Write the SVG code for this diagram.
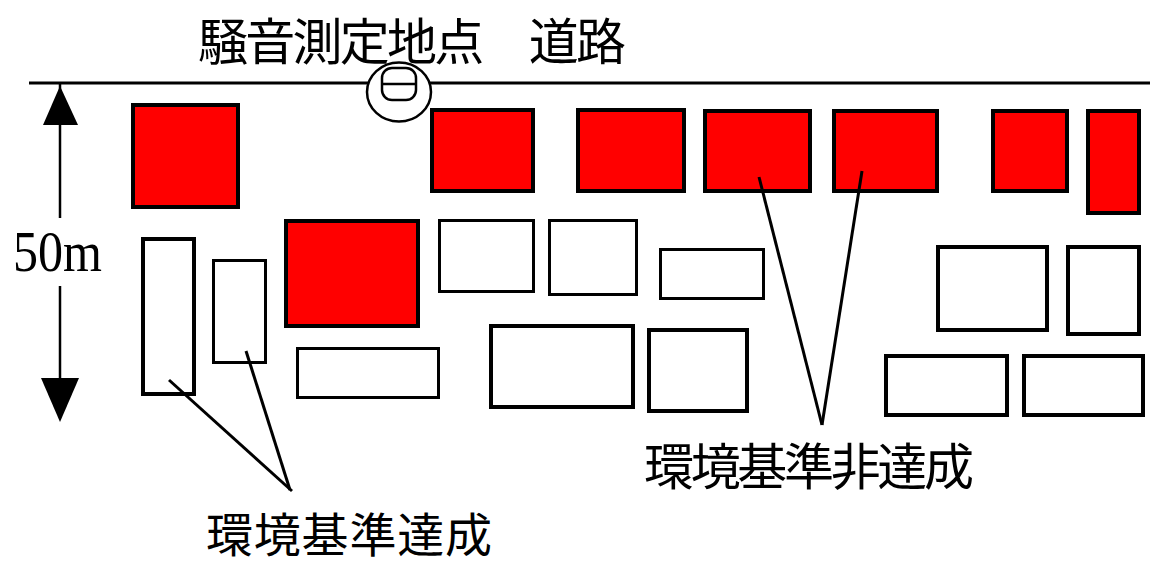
<svg xmlns="http://www.w3.org/2000/svg" width="1150" height="567" viewBox="0 0 1150 567">
<style>
.red{fill:#ff0000;stroke:#000;stroke-width:4}
.wh{fill:#fff;stroke:#000;stroke-width:4}
.th{stroke-width:3}
.lbl{font-family:"Noto Sans CJK JP","Noto Sans CJK SC",sans-serif;font-size:50px;fill:#000}
.ln{stroke:#000;stroke-width:3;fill:none}
</style>
<rect width="1150" height="567" fill="#fff"/>
<g id="road">
<line x1="29" y1="83" x2="1150" y2="83" stroke="#000" stroke-width="3"/>
</g>
<text class="lbl" x="198" y="60" textLength="428" lengthAdjust="spacing">騒音測定地点　道路</text>
<g id="measure-point">
<ellipse cx="399" cy="92" rx="32" ry="29.5" fill="#fff" stroke="#000" stroke-width="2.5"/>
<rect x="382" y="68" width="34" height="32" rx="10" fill="none" stroke="#000" stroke-width="2.5"/>
<line x1="382" y1="84" x2="416" y2="84" stroke="#000" stroke-width="2.5"/>
</g>
<g id="dimension">
<line x1="60" y1="83" x2="60" y2="218" stroke="#000" stroke-width="2.5"/>
<line x1="60" y1="286" x2="60" y2="380" stroke="#000" stroke-width="2.5"/>
<polygon points="60,86 43,125 78,125" fill="#000"/>
<polygon points="41,378 79,378 60,422" fill="#000"/>
<text x="13" y="271" font-family="Liberation Serif,serif" font-size="56" textLength="89" lengthAdjust="spacingAndGlyphs">50m</text>
</g>
<g id="red1"><rect class="red" x="133" y="105" width="105" height="102"/></g>
<g id="red2"><rect class="red" x="432" y="110" width="101" height="81"/></g>
<g id="red3"><rect class="red" x="578" y="110" width="106" height="81"/></g>
<g id="red4"><rect class="red" x="705" y="111" width="105" height="80"/></g>
<g id="red5"><rect class="red" x="834" y="111" width="103" height="80"/></g>
<g id="red6"><rect class="red" x="993" y="111" width="74" height="80"/></g>
<g id="red7"><rect class="red" x="1088" y="111" width="51" height="102"/></g>
<g id="red8"><rect class="red" x="286" y="221" width="132" height="105"/></g>
<g id="wa"><rect class="wh" x="143" y="239" width="51" height="155"/></g>
<g id="wb"><rect class="wh th" x="213.5" y="260.5" width="52" height="102"/></g>
<g id="wc"><rect class="wh th" x="439.5" y="220.5" width="94" height="71"/></g>
<g id="wd"><rect class="wh th" x="549.5" y="220.5" width="87" height="74"/></g>
<g id="we"><rect class="wh th" x="297.5" y="348.5" width="141" height="49"/></g>
<g id="wf"><rect class="wh" x="491" y="326" width="142" height="81"/></g>
<g id="wh"><rect class="wh th" x="660.5" y="249.5" width="103" height="49"/></g>
<g id="wj"><rect class="wh" x="649" y="330" width="98" height="81"/></g>
<g id="wk"><rect class="wh" x="938" y="247" width="109" height="83"/></g>
<g id="wl"><rect class="wh" x="1068" y="247" width="71" height="87"/></g>
<g id="wm"><rect class="wh" x="886" y="356" width="121" height="59"/></g>
<g id="wn"><rect class="wh" x="1024" y="356" width="119" height="59"/></g>
<g id="connectors">
<line class="ln" x1="169" y1="380" x2="292" y2="491"/>
<line class="ln" x1="246" y1="351" x2="290" y2="490"/>
<line class="ln" x1="759" y1="177" x2="822" y2="425"/>
<line class="ln" x1="862" y1="171" x2="822" y2="425"/>
</g>
<text class="lbl" x="644" y="485" textLength="330" lengthAdjust="spacing">環境基準非達成</text>
<text class="lbl" x="206" y="552" style="font-size:47px" textLength="286" lengthAdjust="spacing">環境基準達成</text>
</svg>
